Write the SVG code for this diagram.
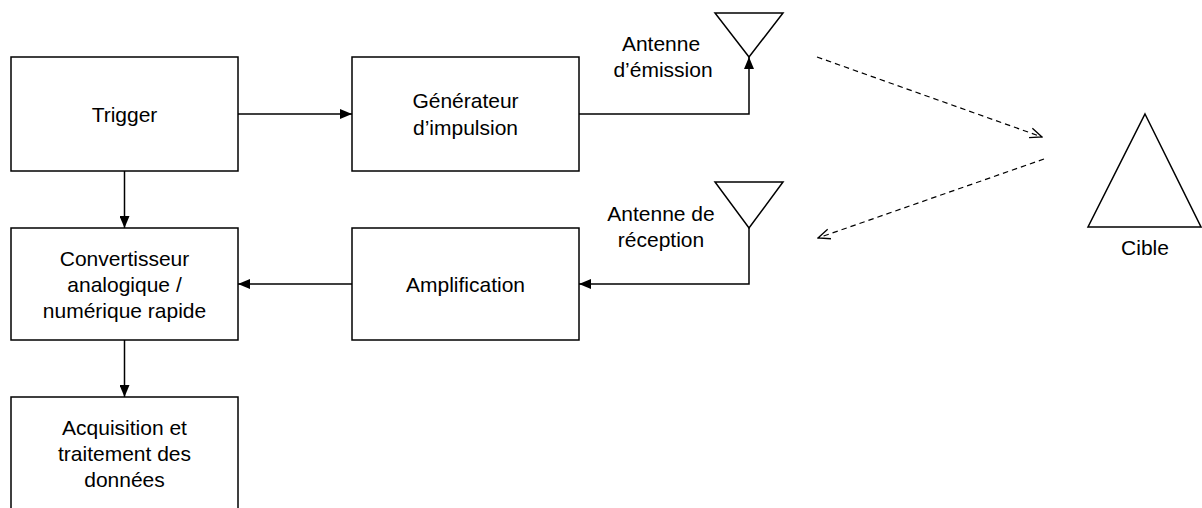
<svg xmlns="http://www.w3.org/2000/svg" width="1202" height="508" viewBox="0 0 1202 508">
<style>
.box{fill:#fff;stroke:#000;stroke-width:1.5}
.t{font-family:"Liberation Sans",Arial,sans-serif;font-size:21px;fill:#000;text-anchor:middle}
.c{fill:none;stroke:#000;stroke-width:1.5}
.d{fill:none;stroke:#000;stroke-width:1.2;stroke-dasharray:5.5,4}
</style>
<defs>
<marker id="ah" viewBox="0 0 12 10" refX="12" refY="5" markerWidth="12" markerHeight="10" markerUnits="userSpaceOnUse" orient="auto"><path d="M0,0 L12,5 L0,10 Z" fill="#000"/></marker>
<marker id="oa" viewBox="0 0 14 12" refX="13" refY="6" markerWidth="14" markerHeight="12" markerUnits="userSpaceOnUse" orient="auto"><path d="M1,1 L13,6 L1,11" fill="none" stroke="#000" stroke-width="1.3"/></marker>
</defs>
<rect width="1202" height="508" fill="#fff"/>
<g id="trigger"><rect class="box" x="11" y="57" width="227" height="114"/><text class="t" x="124.5" y="121.5">Trigger</text></g>
<g id="generateur"><rect class="box" x="352" y="57" width="227" height="114"/><text class="t" x="465.5" y="108">Générateur</text><text class="t" x="465.5" y="135">d’impulsion</text></g>
<g id="convertisseur"><rect class="box" x="11" y="228" width="227" height="112"/><text class="t" x="124.5" y="266">Convertisseur</text><text class="t" x="124.5" y="292">analogique /</text><text class="t" x="124.5" y="318">numérique rapide</text></g>
<g id="amplification"><rect class="box" x="352" y="228" width="227" height="112"/><text class="t" x="465.5" y="292">Amplification</text></g>
<g id="acquisition"><rect class="box" x="11" y="397" width="227" height="130"/><text class="t" x="124.5" y="435">Acquisition et</text><text class="t" x="124.5" y="461">traitement des</text><text class="t" x="124.5" y="487">données</text></g>
<g id="antenne-emission"><path class="c" d="M715,13 L783,13 L749,57 Z" stroke-width="1.3"/><text class="t" x="661" y="51">Antenne</text><text class="t" x="663" y="77">d’émission</text></g>
<g id="antenne-reception"><path class="c" d="M715,182 L783,182 L749,228 Z" stroke-width="1.3"/><text class="t" x="661" y="221">Antenne de</text><text class="t" x="661" y="247">réception</text></g>
<g id="cible"><path class="c" d="M1145,114 L1201,227 L1088,227 Z" stroke-width="1.3"/><text class="t" x="1145" y="255">Cible</text></g>
<g id="connectors">
<path class="c" d="M238,114 L352,114" marker-end="url(#ah)"/>
<path class="c" d="M124.5,171 L124.5,228" marker-end="url(#ah)"/>
<path class="c" d="M352,284 L238,284" marker-end="url(#ah)"/>
<path class="c" d="M124.5,340 L124.5,397" marker-end="url(#ah)"/>
<path class="c" d="M579,114 L749,114 L749,57" marker-end="url(#ah)"/>
<path class="c" d="M749,228 L749,284 L579,284" marker-end="url(#ah)"/>
<path class="d" d="M817,57 L1042,137" marker-end="url(#oa)"/>
<path class="d" d="M1044,159 L818,238" marker-end="url(#oa)"/>
</g>
</svg>
